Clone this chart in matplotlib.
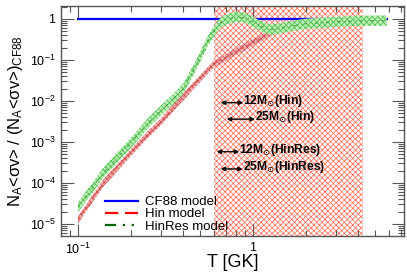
import numpy as np
import matplotlib
matplotlib.use('Agg')
import matplotlib.pyplot as plt
from matplotlib.ticker import FixedLocator, NullFormatter, FixedFormatter

plt.rcParams['font.family'] = ['Liberation Sans', 'DejaVu Sans']
plt.rcParams['mathtext.fontset'] = 'custom'
plt.rcParams['mathtext.rm'] = 'Liberation Sans'
plt.rcParams['mathtext.it'] = 'Liberation Sans:italic'
plt.rcParams['mathtext.bf'] = 'Liberation Sans:bold'
plt.rcParams['hatch.linewidth'] = 0.55

# ---- data ----
T = [0.1, 0.12, 0.14, 0.17, 0.2, 0.25, 0.3, 0.35, 0.4, 0.45, 0.5, 0.55, 0.6,
     0.65, 0.7, 0.8, 0.9, 1.0, 1.1, 1.25, 1.4, 1.6, 1.8, 2.0, 2.5, 3.0, 4.0,
     5.0, 5.8]
cf88 = [1.0] * len(T)
hin = [1.26e-5, 3.9e-5, 1.0e-4, 2.5e-4, 5.4e-4, 1.5e-3, 3.2e-3, 6.8e-3,
       1.26e-2, 2.2e-2, 3.5e-2, 5.5e-2, 8.0e-2, 9.8e-2, 0.115, 0.16, 0.21,
       0.27, 0.33, 0.46, 0.55, 0.64, 0.71, 0.78, 0.85, 0.89, 0.91, 0.91, 0.91]
hinres = [2.6e-5, 7.2e-5, 1.8e-4, 4.4e-4, 9.3e-4, 2.8e-3, 6.0e-3, 1.1e-2,
          2.0e-2, 5.0e-2, 0.12, 0.28, 0.51, 0.79, 0.95, 1.13, 1.07, 0.86,
          0.68, 0.55, 0.58, 0.65, 0.71, 0.76, 0.81, 0.85, 0.90, 0.91, 0.91]
hin_factor = 1.22     # band half-width (multiplicative)
hinres_factor = 1.33

window_T = [0.6, 4.25]

range_labels = ["12M", "25M", "12M", "25M"]
range_suffix = ["(Hin)", "(Hin)", "(HinRes)", "(HinRes)"]
range_lo = [0.654, 0.708, 0.62, 0.654]
range_hi = [0.88, 1.027, 0.835, 0.873]
range_y = [9.1e-3, 3.6e-3, 5.8e-4, 2.2e-4]

xticks_major = [0.1, 1.0]
xtick_labels = ["$10^{-1}$", "1"]
yticks_major = [1e-5, 1e-4, 1e-3, 1e-2, 1e-1, 1.0]
ytick_labels = ["$10^{-5}$", "$10^{-4}$", "$10^{-3}$", "$10^{-2}$", "$10^{-1}$", "1"]

# ---- figure ----
fig = plt.figure(figsize=(4.07, 2.75), dpi=100)
ax = fig.add_axes([0.1499, 0.1418, 0.8427, 0.8364])
ax.set_xscale('log')
ax.set_yscale('log')
ax.set_xlim(0.08, 7.3)
ax.set_ylim(5.1e-6, 2.07)

Ta = np.array(T)
hin_a = np.array(hin)
hinres_a = np.array(hinres)

# shaded temperature window
ax.axvspan(window_T[0], window_T[1], facecolor='none', edgecolor='#ff7058',
           hatch='xxxxxx', linewidth=0, zorder=1)

# CF88
ax.plot(Ta, cf88, color='#0000ff', lw=1.6, zorder=3)

# Hin band
ax.fill_between(Ta, hin_a / hin_factor, hin_a * hin_factor,
                facecolor='#f0b8b8', edgecolor='#d05050', hatch='xxxxxx',
                linewidth=0, zorder=4)
ax.plot(Ta, hin_a, color='#e03030', lw=0.5, ls=(0, (6, 3)), zorder=5)

# HinRes band
ax.fill_between(Ta, hinres_a / hinres_factor, hinres_a * hinres_factor,
                facecolor='#bff0b8', edgecolor='#50c050', hatch='xxxxxx',
                linewidth=0, zorder=6)
ax.plot(Ta, hinres_a, color='#2a8a2a', lw=0.5,
        ls=(0, (5, 3, 1, 3, 1, 3)), zorder=7)

# legend
leg_lines = [
    plt.Line2D([], [], color='#0000ff', lw=1.6),
    plt.Line2D([], [], color='#ff0000', lw=1.6, ls=(0, (6, 3))),
    plt.Line2D([], [], color='#006600', lw=1.6, ls=(0, (5, 3, 1, 3, 1, 3))),
]
ax.legend(leg_lines, ["CF88 model", "Hin model", "HinRes model"],
          loc='lower left', bbox_to_anchor=(0.105, -0.02), frameon=False,
          fontsize=9.5, handlelength=2.5, handletextpad=0.5,
          labelspacing=0.0, borderaxespad=0.2)

# temperature ranges
for lab, suf, lo, hi, y in zip(range_labels, range_suffix, range_lo,
                               range_hi, range_y):
    ax.annotate('', xy=(lo, y), xytext=(hi, y),
                arrowprops=dict(arrowstyle='<|-|>', color='black', lw=1.0,
                                mutation_scale=6, shrinkA=0, shrinkB=0),
                zorder=10)
    ax.text(hi, y * 1.12, lab + r"$_{\odot}$" + suf, fontsize=8.7,
            fontweight='bold', ha='left', va='center', zorder=10,
            math_fontfamily='dejavusans')

# ticks / frame
frame_col = '#555555'
for s in ax.spines.values():
    s.set_color(frame_col)
    s.set_linewidth(1.0)
ax.xaxis.set_major_locator(FixedLocator(xticks_major))
ax.xaxis.set_major_formatter(FixedFormatter(xtick_labels))
xminor = [k * 10.0 ** e for e in (-2, -1, 0) for k in range(2, 10)]
ax.xaxis.set_minor_locator(FixedLocator(xminor))
ax.xaxis.set_minor_formatter(NullFormatter())
ax.yaxis.set_major_locator(FixedLocator(yticks_major))
ax.yaxis.set_major_formatter(FixedFormatter(ytick_labels))
yminor = [k * 10.0 ** e for e in range(-6, 1) for k in range(2, 10)]
ax.yaxis.set_minor_locator(FixedLocator(yminor))
ax.yaxis.set_minor_formatter(NullFormatter())
ax.tick_params(which='both', direction='in', top=True, right=True,
               color=frame_col, labelsize=9, width=0.8)
ax.tick_params(which='major', length=9, pad=4)
ax.tick_params(which='minor', length=4.5)

ax.set_xlabel("T [GK]", fontsize=13, labelpad=-2)
ax.set_ylabel(r"N$_\mathrm{A}$<σv> / (N$_\mathrm{A}$<σv>)$_\mathrm{CF88}$",
              fontsize=12)
ax.yaxis.set_label_coords(-0.105, 0.5)

fig.savefig('out.png', dpi=100)
